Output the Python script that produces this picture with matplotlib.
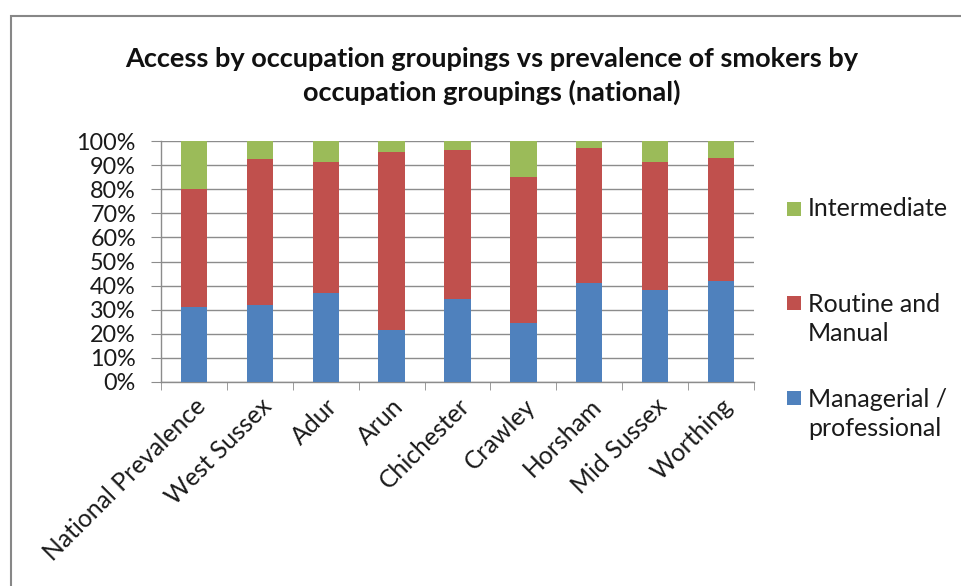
import matplotlib
matplotlib.use("Agg")
import matplotlib.pyplot as plt
from matplotlib.patches import Rectangle
import numpy as np

categories = ["National Prevalence", "West Sussex", "Adur", "Arun", "Chichester",
              "Crawley", "Horsham", "Mid Sussex", "Worthing"]
managerial = [31.0, 32.1, 36.9, 21.4, 34.3, 24.3, 41.2, 38.0, 41.8]
routine = [48.9, 60.3, 54.4, 74.2, 61.8, 60.6, 55.9, 53.3, 51.0]
intermediate = [20.1, 7.6, 8.7, 4.4, 3.9, 15.1, 2.9, 8.7, 7.2]
yticks = [0, 10, 20, 30, 40, 50, 60, 70, 80, 90, 100]
title = "Access by occupation groupings vs prevalence of smokers by\noccupation groupings (national)"

plt.rcParams['font.family'] = ['Lato', 'DejaVu Sans']

W, H = 962, 586
fig = plt.figure(figsize=(W / 100, H / 100), dpi=100)
fig.patch.set_facecolor('white')

ax = fig.add_axes([161 / W, 1 - 382 / H, (754 - 161) / W, (382 - 141) / H])

x = np.arange(len(categories))
bw = 0.4
c_blue, c_red, c_green = '#4F81BD', '#C0504D', '#9BBB59'
b1 = ax.bar(x, managerial, bw, color=c_blue, zorder=3)
b2 = ax.bar(x, routine, bw, bottom=managerial, color=c_red, zorder=3)
bottom3 = [m + r for m, r in zip(managerial, routine)]
b3 = ax.bar(x, intermediate, bw, bottom=bottom3, color=c_green, zorder=3)

ax.set_xlim(-0.5, len(categories) - 0.5)
ax.set_ylim(0, 100)
ax.set_yticks(yticks)
ax.set_yticklabels([f"{t}%" for t in yticks], fontsize=16.8, color='#1a1a1a')
ax.yaxis.grid(True, color='#8c8c8c', linewidth=1.0, zorder=0)
ax.set_axisbelow(True)

ax.set_xticks(x)
ax.set_xticklabels(categories, rotation=45, ha='right', rotation_mode='anchor',
                   fontsize=17.8, color='#1a1a1a')
ax.tick_params(axis='x', length=0, pad=9)
ax.set_xticks(np.arange(len(categories) + 1) - 0.5, minor=True)
ax.tick_params(axis='x', which='minor', length=6, color='#8c8c8c', direction='out')
ax.tick_params(axis='y', length=7, color='#8c8c8c', direction='out', pad=11)

for s in ['top', 'right']:
    ax.spines[s].set_visible(False)
for s in ['left', 'bottom']:
    ax.spines[s].set_color('#8c8c8c')
    ax.spines[s].set_linewidth(1.0)

fig.text(492 / W, 1 - 76 / H, title, ha='center', va='center', fontsize=19.5,
         fontweight='bold', linespacing=1.45, color='#111111')

# legend: squares + text placed in figure coordinates
handles = [b3, b2, b1]
labels = ['Intermediate', 'Routine and\nManual', 'Managerial /\nprofessional']
sq_y = [209, 303, 398]
txt_y = [209, 319, 414]
for h, lab, sy, ty in zip(handles, labels, sq_y, txt_y):
    fc = h.patches[0].get_facecolor()
    fig.patches.append(Rectangle((787 / W, 1 - (sy + 7) / H), 14 / W, 14 / H,
                                 transform=fig.transFigure, facecolor=fc, edgecolor='none'))
    fig.text(808 / W, 1 - ty / H, lab, ha='left', va='center', fontsize=18,
             linespacing=1.3, color='#1a1a1a')

fig.patches.append(Rectangle((11 / W, -0.1), 1.2, 1 - 16 / H + 0.1,
                             transform=fig.transFigure, facecolor='none',
                             edgecolor='#878787', linewidth=1.5, clip_on=False))

fig.savefig('out.png', dpi=100)
